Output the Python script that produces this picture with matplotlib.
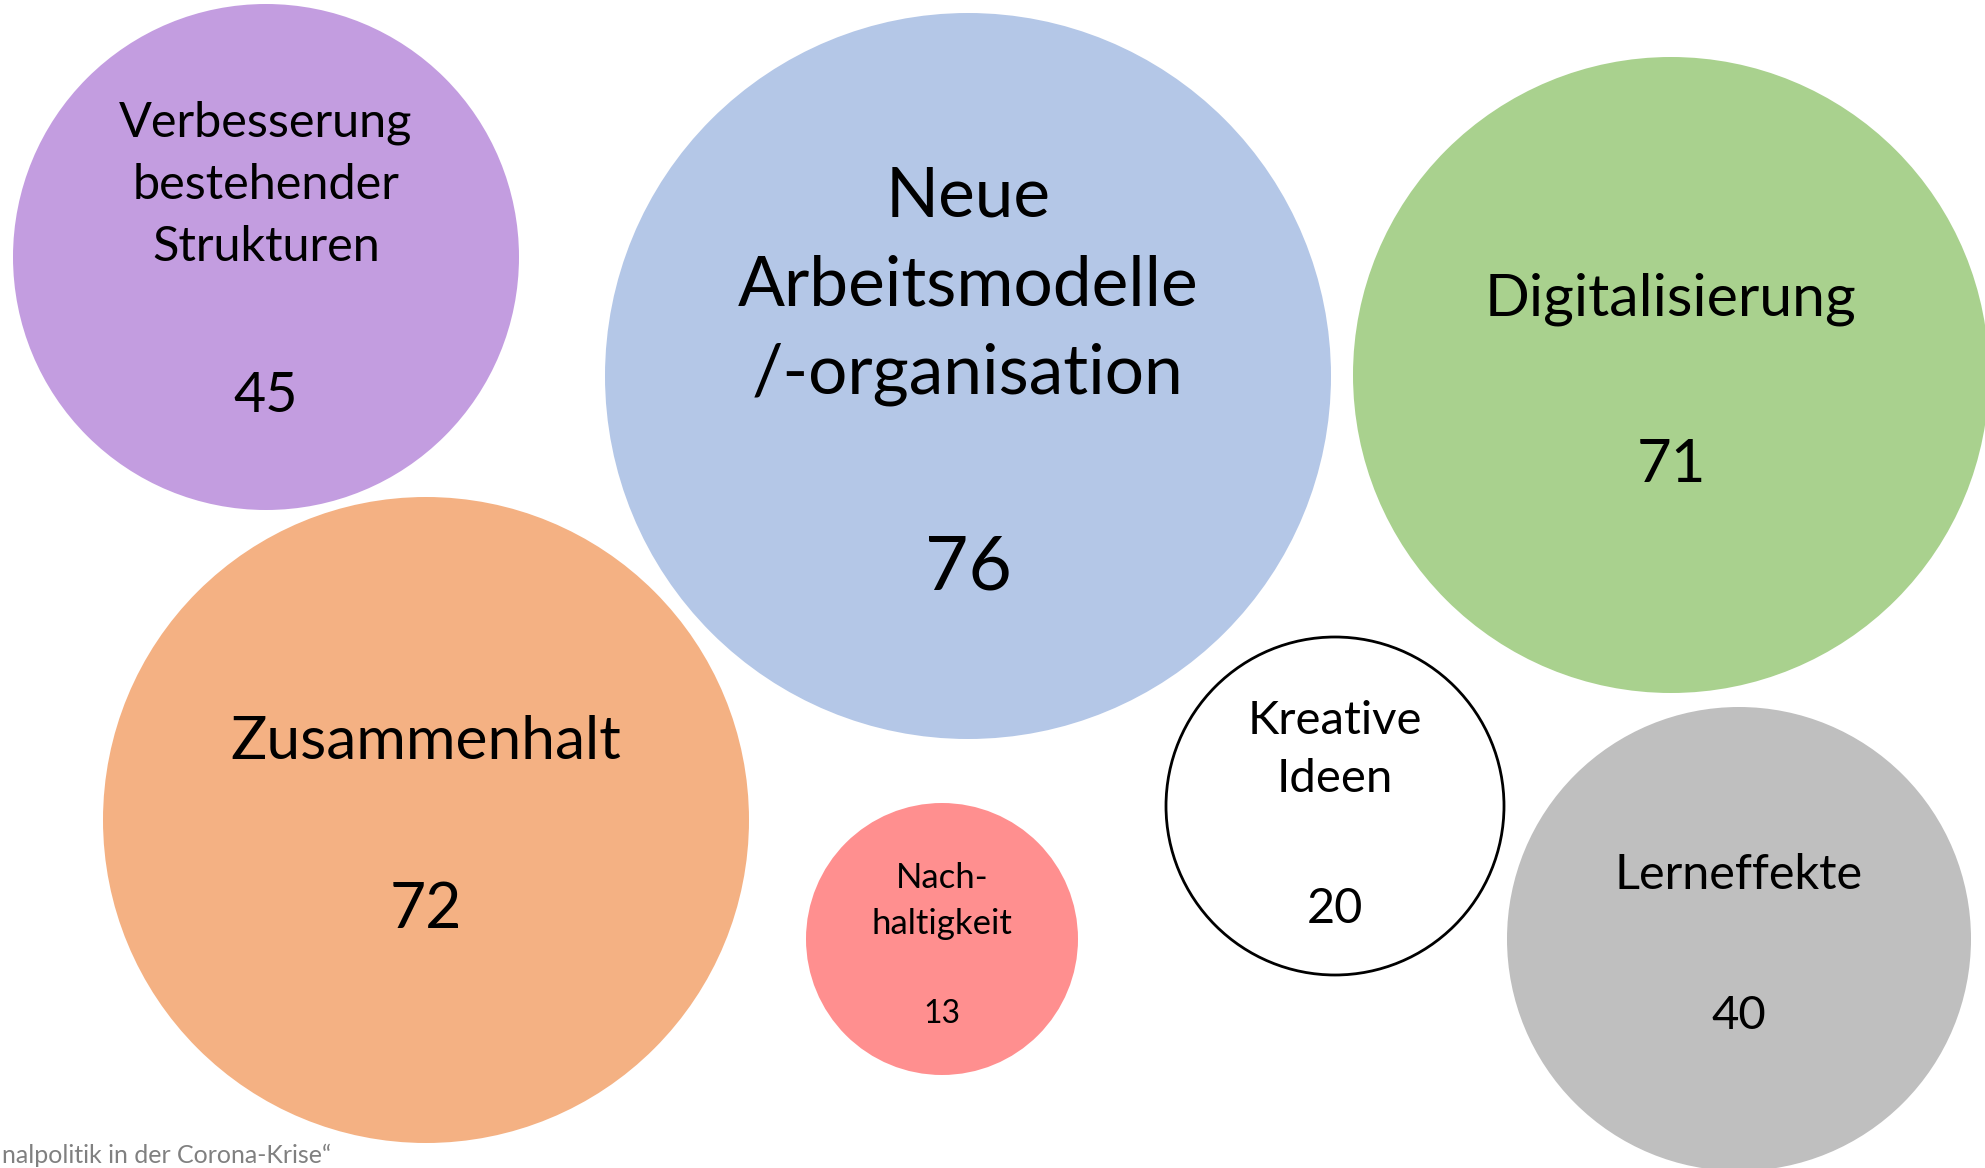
import matplotlib
matplotlib.use('Agg')
import matplotlib.pyplot as plt
from matplotlib.patches import Circle

# Bubble data: topic and number of mentions
labels = ['Verbesserung\nbestehender\nStrukturen', 'Neue\nArbeitsmodelle\n/-organisation',
          'Digitalisierung', 'Zusammenhalt', 'Nach-\nhaltigkeit', 'Kreative\nIdeen', 'Lerneffekte']
counts = [45, 76, 71, 72, 13, 20, 40]

# Layout (pixel coordinates of the 1985x1168 canvas)
centers_x = [266, 968, 1671, 426, 942, 1335, 1739]
centers_y = [257, 376, 375, 820, 939, 806, 939]
radii = [253, 363, 318, 323, 136, 169, 232]
label_y = [185, 286, 299, 742, 901, 750, 875]
count_y = [397, 568, 465, 910, 1014, 909, 1016]
label_size = [35, 50, 42.5, 43.5, 25, 34, 35]
count_size = [40, 54, 43, 45, 23, 35, 34]
fills = ['#C39DE0', '#B4C7E7', '#A9D18E', '#F4B183', '#FF8F8F', '#FFFFFF', '#BFBFBF']
edges = ['none', 'none', 'none', 'none', 'none', 'black', 'none']

W, H = 1985, 1168
fig = plt.figure(figsize=(W / 100, H / 100), dpi=100)
ax = fig.add_axes([0, 0, 1, 1])
ax.set_xlim(0, W)
ax.set_ylim(H, 0)
ax.set_aspect('equal')
ax.axis('off')

font = 'Lato'

for i in range(len(labels)):
    ax.add_patch(Circle((centers_x[i], centers_y[i]), radii[i], facecolor=fills[i],
                        edgecolor=edges[i], linewidth=2))
    ax.text(centers_x[i], label_y[i], labels[i], ha='center', va='center',
            fontsize=label_size[i], family=font, linespacing=1.5, color='black')
    ax.text(centers_x[i], count_y[i], str(counts[i]), ha='center', va='center',
            fontsize=count_size[i], family=font, color='black')

# source note (only its visible tail, the original is cut at the left edge)
ax.text(2, 1163, 'nalpolitik in der Corona-Krise“', ha='left', va='baseline',
        fontsize=18, family=font, color='#808080')

fig.savefig('out.png', dpi=100)
